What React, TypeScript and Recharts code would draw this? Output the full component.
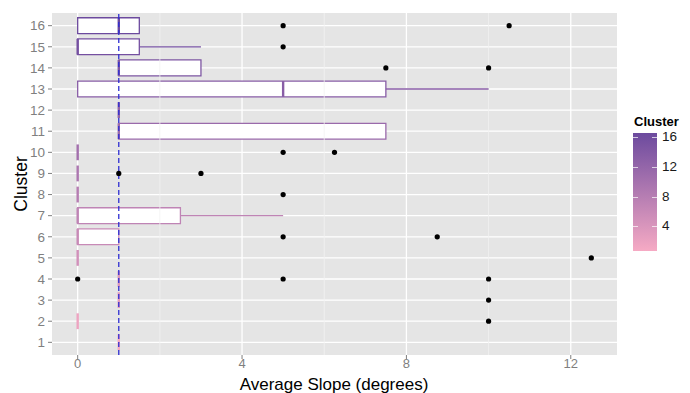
import {
  ComposedChart, XAxis, YAxis, CartesianGrid, Scatter, ReferenceArea, ReferenceLine,
} from "recharts";

// per-cluster box statistics (average slope, degrees)
const clusters = [1, 2, 3, 4, 5, 6, 7, 8, 9, 10, 11, 12, 13, 14, 15, 16];
const lowerHinge = [1, 0, 1, 1, 0, 0, 0, 0, 0, 0, 1, 1, 0, 1, 0, 0];
const medians = [1, 0, 1, 1, 0, 0, 0, 0, 0, 0, 1, 1, 5, 1, 0, 1];
const upperHinge = [1, 0, 1, 1, 0, 1, 2.5, 0, 0, 0, 7.5, 1, 7.5, 3, 1.5, 1.5];
const upperWhisker = [1, 0, 1, 1, 0, 1, 5, 0, 0, 0, 7.5, 1, 10, 3, 3, 1.5];

const outliers = [
  { cluster: 2, value: 10 },
  { cluster: 3, value: 10 },
  { cluster: 4, value: 0 },
  { cluster: 4, value: 5 },
  { cluster: 4, value: 10 },
  { cluster: 5, value: 12.5 },
  { cluster: 6, value: 5 },
  { cluster: 6, value: 8.75 },
  { cluster: 8, value: 5 },
  { cluster: 9, value: 1 },
  { cluster: 9, value: 3 },
  { cluster: 10, value: 5 },
  { cluster: 10, value: 6.25 },
  { cluster: 14, value: 7.5 },
  { cluster: 14, value: 10 },
  { cluster: 15, value: 5 },
  { cluster: 16, value: 5 },
  { cluster: 16, value: 10.5 },
];

const xTicks = [0, 4, 8, 12];
const minorX = [2, 6, 10];
const legendTicks = [4, 8, 12, 16];
const refSlope = 1;

const LOW = [246, 170, 196];
const HIGH = [108, 74, 158];
const HALF = 0.375;

function clusterColor(c: number) {
  const t = (c - 1) / 15;
  const ch = LOW.map((l, i) => Math.round(l + (HIGH[i] - l) * t));
  return `rgb(${ch[0]},${ch[1]},${ch[2]})`;
}

const W = 690;
const H = 393;

export default function App() {
  return (
    <div style={{ position: "fixed", left: 0, top: 0, width: W, height: H, background: "#fff", fontFamily: "'Liberation Sans', Arial, sans-serif" }}>
      <ComposedChart width={W} height={H} margin={{ top: 13, right: 73, bottom: 0, left: 0 }}>
        <CartesianGrid fill="#E5E5E5" stroke="#FFFFFF" strokeWidth={1.3} horizontalValues={clusters} verticalValues={xTicks} />
        {minorX.map((v) => (
          <ReferenceLine key={`m${v}`} x={v} stroke="#F2F2F2" strokeWidth={0.8} />
        ))}
        <XAxis
          type="number"
          dataKey="value"
          domain={[-0.625, 13.125]}
          ticks={xTicks}
          allowDataOverflow
          height={38}
          axisLine={false}
          tickSize={4}
          tickMargin={0}
          tickLine={{ stroke: "#7F7F7F" }}
          tick={{ fill: "#7F7F7F", fontSize: 13 }}
          label={{
            content: () => (
              <text x={334} y={390} textAnchor="middle" fontSize={17} fill="#000">Average Slope (degrees)</text>
            ),
          }}
        />
        <YAxis
          type="number"
          dataKey="cluster"
          domain={[0.4, 16.6]}
          ticks={clusters}
          interval={0}
          allowDataOverflow
          width={52}
          axisLine={false}
          tickSize={4}
          tickMargin={3}
          tickLine={{ stroke: "#7F7F7F" }}
          tick={{ fill: "#7F7F7F", fontSize: 13.5 }}
          label={{
            content: () => (
              <text x={27} y={184} transform="rotate(-90 27 184)" textAnchor="middle" fontSize={17.5} fill="#000">Cluster</text>
            ),
          }}
        />
        {clusters.map((c, i) =>
          upperWhisker[i] > upperHinge[i] ? (
            <ReferenceLine
              key={`w${c}`}
              segment={[{ x: upperHinge[i], y: c }, { x: upperWhisker[i], y: c }]}
              stroke={clusterColor(c)}
              strokeWidth={1.3}
            />
          ) : null,
        )}
        {clusters.map((c, i) =>
          upperHinge[i] > lowerHinge[i] ? (
            <ReferenceArea
              key={`b${c}`}
              x1={lowerHinge[i]}
              x2={upperHinge[i]}
              y1={c - HALF}
              y2={c + HALF}
              fill="#FFFFFF"
              fillOpacity={1}
              stroke={clusterColor(c)}
              strokeWidth={1.3}
            />
          ) : null,
        )}
        {clusters.map((c, i) => (
          <ReferenceLine
            key={`md${c}`}
            segment={[{ x: medians[i], y: c - HALF }, { x: medians[i], y: c + HALF }]}
            stroke={clusterColor(c)}
            strokeWidth={2.4}
          />
        ))}
        <ReferenceLine x={refSlope} stroke="#2E2ED2" strokeWidth={1.3} strokeDasharray="5 3" />
        <Scatter data={outliers} fill="#000" isAnimationActive={false} shape={(p: any) => <circle cx={p.cx} cy={p.cy} r={2.6} fill="#000" />} />
      </ComposedChart>

      {/* colour bar legend */}
      <div style={{ position: "absolute", left: 634, top: 114, fontSize: 13, fontWeight: "bold", color: "#000" }}>Cluster</div>
      <div
        style={{
          position: "absolute",
          left: 633,
          top: 133,
          width: 24,
          height: 118,
          background: `linear-gradient(to top, ${clusterColor(1)}, ${clusterColor(16)})`,
        }}
      />
      {legendTicks.map((v) => {
        const y = 137 + (16 - v) * 7.45;
        return (
          <div key={v}>
            <div style={{ position: "absolute", left: 633, top: y, width: 5, height: 1, background: "rgba(255,255,255,0.7)" }} />
            <div style={{ position: "absolute", left: 652, top: y, width: 5, height: 1, background: "rgba(255,255,255,0.7)" }} />
            <div style={{ position: "absolute", left: 662, top: y - 8, fontSize: 13.5, color: "#1a1a1a" }}>{v}</div>
          </div>
        );
      })}
    </div>
  );
}
